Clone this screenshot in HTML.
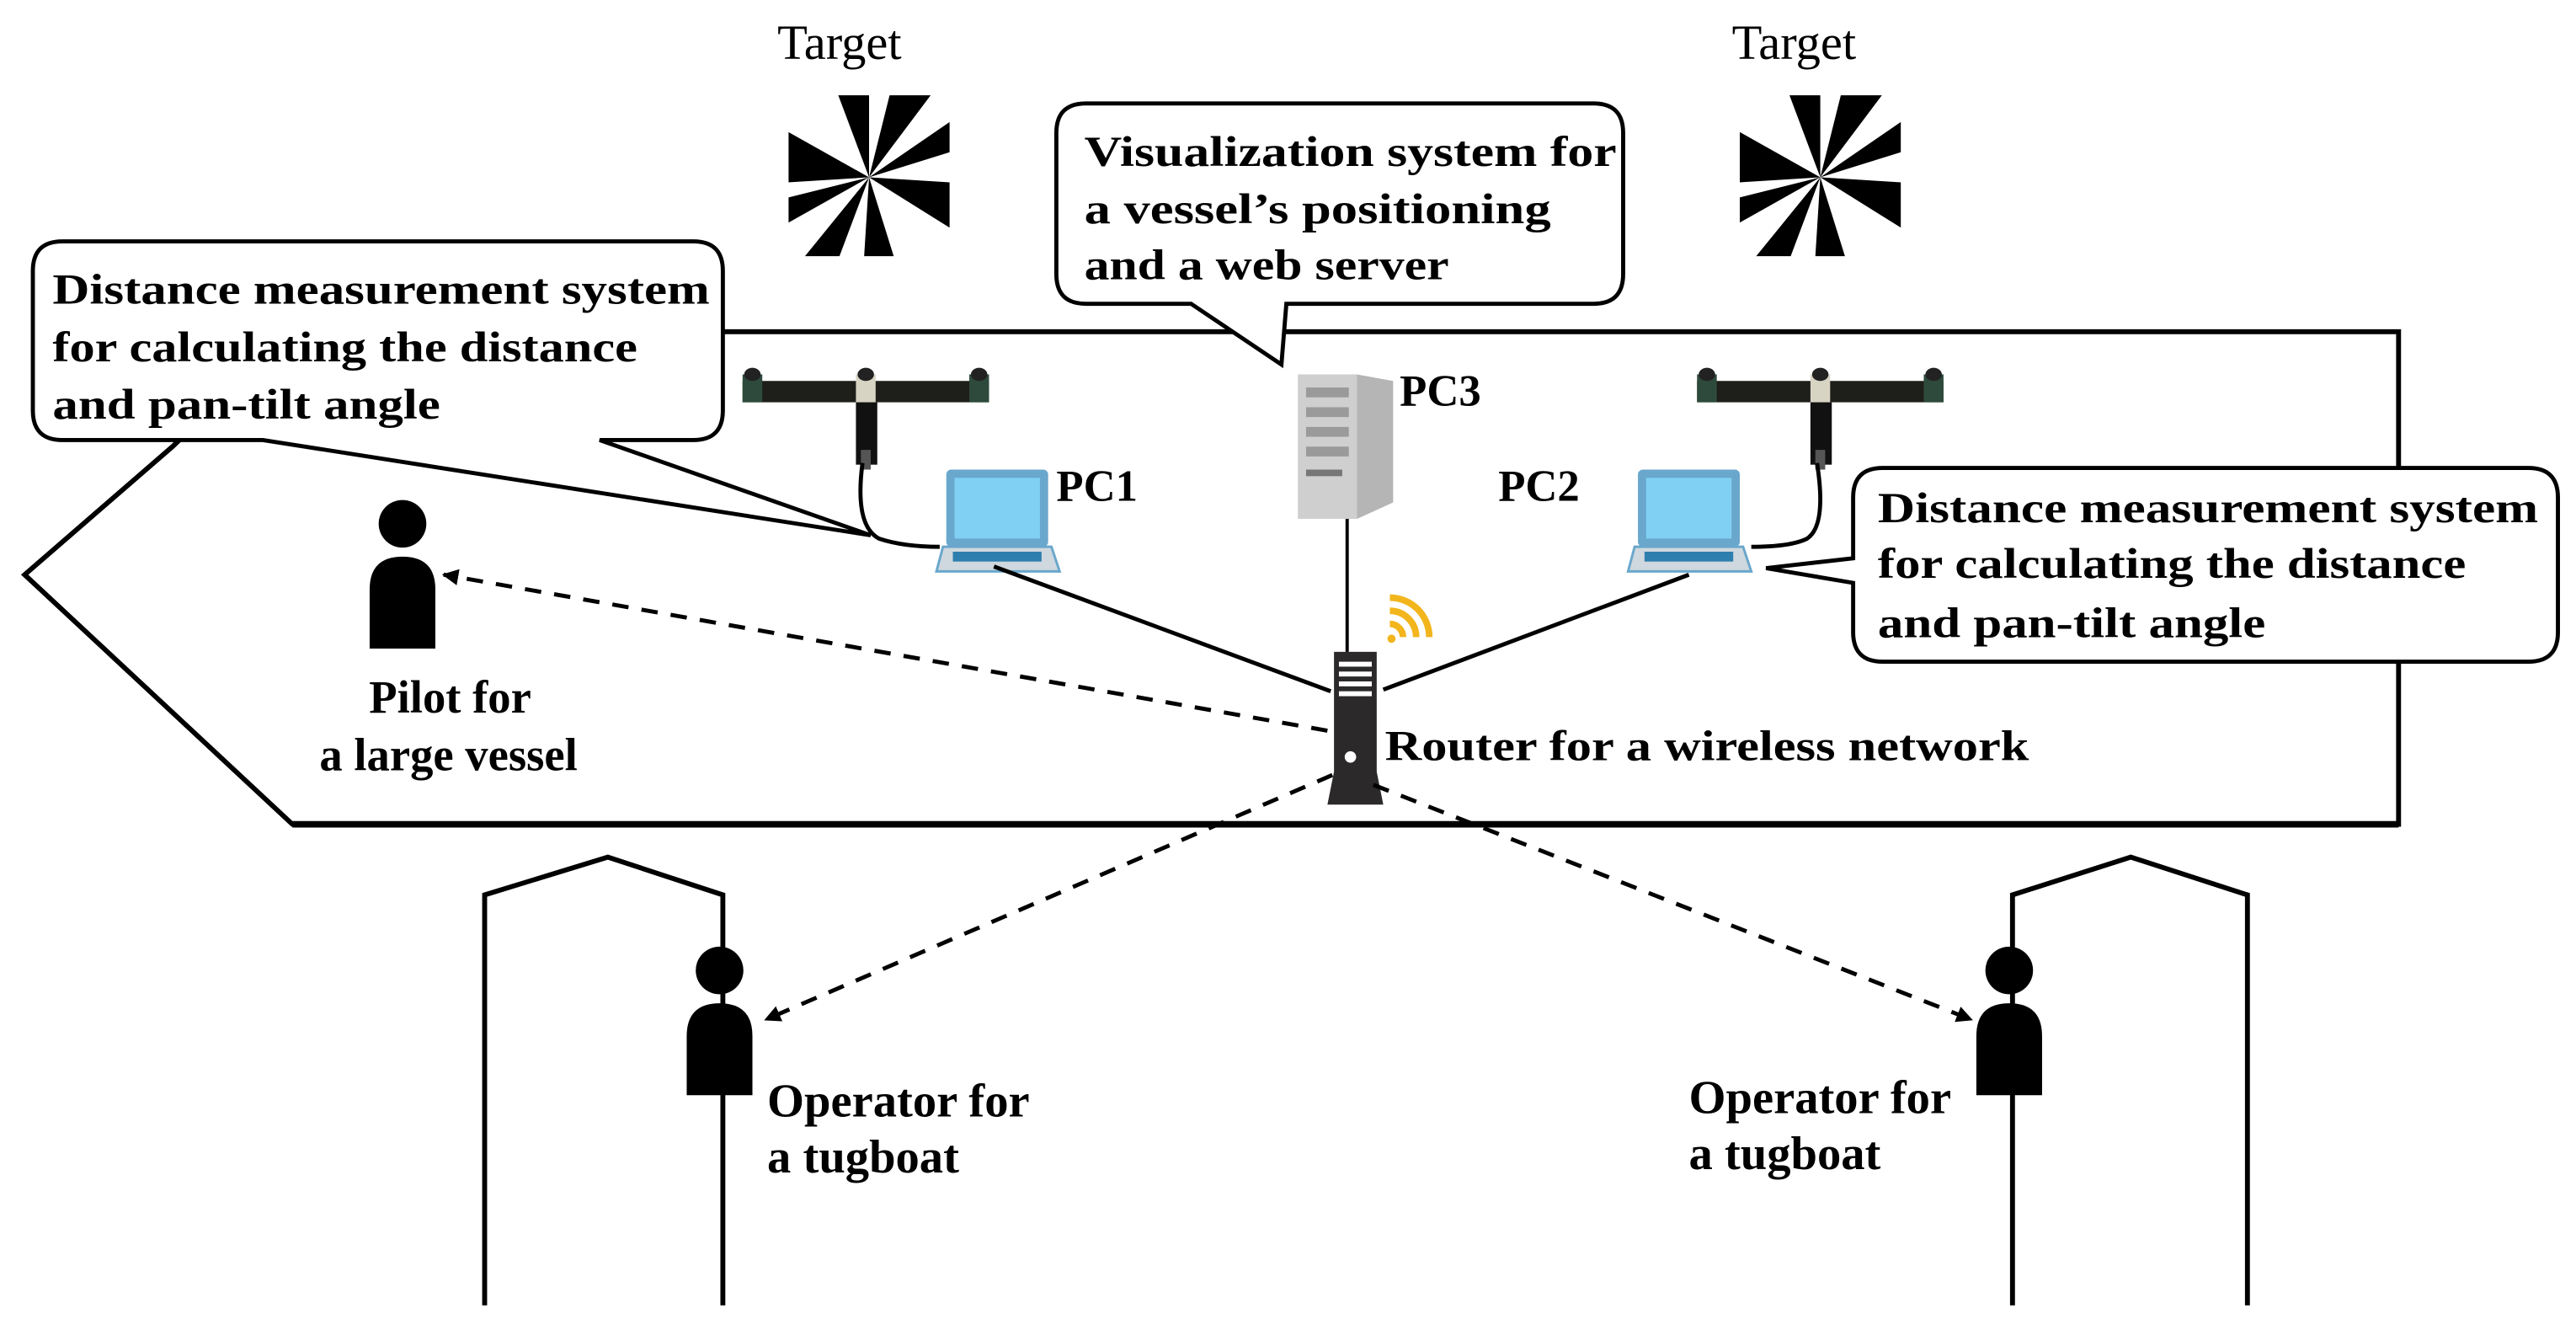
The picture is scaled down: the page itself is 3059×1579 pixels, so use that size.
<!DOCTYPE html>
<html><head><meta charset="utf-8"><style>
html,body{margin:0;padding:0;background:#fff;}
svg{display:block;}
text{font-family:"Liberation Serif",serif;font-weight:bold;fill:#000;font-size:26px;}
</style></head><body>
<svg width="3059" height="1579" viewBox="0 0 1568 810" preserveAspectRatio="none" xmlns="http://www.w3.org/2000/svg">
<defs>
<marker id="ah" markerWidth="10" markerHeight="10" refX="9" refY="5" orient="auto" markerUnits="userSpaceOnUse" viewBox="0 0 10 10">
<path d="M0,0 L10,5 L0,10 z" fill="#000"/></marker>
<clipPath id="c1"><rect x="480" y="58" width="98" height="98"/></clipPath>
<clipPath id="c2"><rect x="1059" y="58" width="98" height="98"/></clipPath>
<g id="star">
<path d="M0,0 L-30,-80 L0,-80 Z M0,0 L20,-80 L60,-80 Z M0,0 L80,-55 L80,-25 Z M0,0 L80,5 L80,50 Z M0,0 L25,80 L-5,80 Z M0,0 L-30,80 L-65,80 Z M0,0 L-80,45 L-80,20 Z M0,0 L-80,5 L-80,-45 Z" fill="#000"/>
</g>
<g id="pt">
<rect x="-75" y="-4" width="150" height="13" fill="#1e1e1a"/>
<rect x="-75" y="-8" width="12" height="17" fill="#2e4a3c"/>
<rect x="63" y="-8" width="12" height="17" fill="#2e4a3c"/>
<rect x="-6" y="-8" width="12" height="17" fill="#d8d4c4"/>
<ellipse cx="-69" cy="-8" rx="5" ry="4" fill="#222"/>
<ellipse cx="69" cy="-8" rx="5" ry="4" fill="#222"/>
<ellipse cx="0" cy="-8" rx="5" ry="4" fill="#222"/>
<rect x="-6" y="9" width="13" height="38" fill="#111"/>
<rect x="-3" y="38" width="6" height="12" fill="#555"/>
</g>
<g id="lap">
<rect x="6" y="0" width="62" height="47" rx="3" fill="#6aa7cc"/>
<rect x="11" y="5" width="52" height="37" fill="#7fd0f3"/>
<path d="M4,47 L70,47 L75,62 L0,62 Z" fill="#cfd8de" stroke="#6aa7cc" stroke-width="1.5"/>
<rect x="10" y="50" width="54" height="6" fill="#2f7fae"/>
</g>
<g id="person">
<circle cx="0" cy="0" r="14.5"/>
<path d="M-20,76 L-20,40 Q-20,20 0,20 Q20,20 20,40 L20,76 Z"/>
</g>
</defs>

<polygon points="178,202 1460,202 1460,502 178,502 15,350 105,272" fill="none" stroke="#000" stroke-width="3"/>
<line x1="178" y1="502" x2="1460" y2="502" stroke="#000" stroke-width="4"/>

<polyline points="295,795 295,545 370,522 440,545 440,795" fill="none" stroke="#000" stroke-width="3"/>
<polyline points="1225,795 1225,545 1297,522 1368,545 1368,795" fill="none" stroke="#000" stroke-width="3"/>

<text x="511" y="36" text-anchor="middle" style="font-weight:normal;font-size:30px">Target</text>
<text x="1092" y="36" text-anchor="middle" style="font-weight:normal;font-size:30px">Target</text>
<g clip-path="url(#c1)"><use href="#star" transform="translate(529,108)"/></g>
<g clip-path="url(#c2)"><use href="#star" transform="translate(1108,108)"/></g>

<use href="#pt" transform="translate(527,236)"/>
<use href="#pt" transform="translate(1108,236)"/>
<path d="M525,282 Q520,320 535,328 Q550,333 572,333" fill="none" stroke="#000" stroke-width="2.5"/>
<path d="M1106,282 Q1112,320 1100,328 Q1090,333 1066,333" fill="none" stroke="#000" stroke-width="2.5"/>

<use href="#lap" transform="translate(570,286)"/>
<use href="#lap" transform="translate(991,286)"/>
<text x="643" y="305" style="font-size:27px">PC1</text>
<text x="912" y="305" style="font-size:27px">PC2</text>

<rect x="790" y="228" width="36" height="88" fill="#cfcfcf"/>
<polygon points="826,228 848,232 848,306 826,316" fill="#b5b5b5"/>
<g fill="#9a9a9a"><rect x="795" y="236" width="26" height="6"/><rect x="795" y="248" width="26" height="6"/><rect x="795" y="260" width="26" height="6"/><rect x="795" y="272" width="26" height="6"/></g>
<rect x="795" y="286" width="22" height="4" fill="#777"/>
<text x="852" y="247" style="font-size:27px">PC3</text>

<line x1="605" y1="345" x2="810" y2="421" stroke="#000" stroke-width="2.5"/>
<line x1="820" y1="316" x2="820" y2="397" stroke="#000" stroke-width="2"/>
<line x1="1028" y1="350" x2="842" y2="420" stroke="#000" stroke-width="2.5"/>

<path d="M812,397 L838,397 L838,470 L842,490 L808,490 L812,470 Z" fill="#2b2929"/>
<g fill="#fff"><rect x="815" y="403" width="20" height="3"/><rect x="815" y="409" width="20" height="3"/><rect x="815" y="415" width="20" height="3"/><rect x="815" y="421" width="20" height="3"/></g>
<circle cx="822" cy="461" r="3.5" fill="#fff"/>
<g fill="none" stroke="#f2b51c" stroke-width="4">
<path d="M846,380 A8,8 0 0 1 854,388"/>
<path d="M846,372 A16,16 0 0 1 862,388"/>
<path d="M846,364 A24,24 0 0 1 870,388"/>
</g>
<circle cx="847" cy="389" r="2.5" fill="#f2b51c"/>
<text x="843" y="463" textLength="392" lengthAdjust="spacingAndGlyphs">Router for a wireless network</text>

<use href="#person" transform="translate(245,319)"/>
<use href="#person" transform="translate(438,591)"/>
<use href="#person" transform="translate(1223,591)"/>
<text x="274" y="434" text-anchor="middle" style="font-size:28px">Pilot for</text>
<text x="273" y="469" text-anchor="middle" style="font-size:28px">a large vessel</text>
<text x="467" y="680" style="font-size:29px">Operator for</text>
<text x="467" y="714" style="font-size:29px">a tugboat</text>
<text x="1028" y="678" style="font-size:29px">Operator for</text>
<text x="1028" y="712" style="font-size:29px">a tugboat</text>

<g stroke="#000" stroke-width="2.5" stroke-dasharray="10,8" fill="none">
<line x1="808" y1="445" x2="270" y2="350" marker-end="url(#ah)"/>
<line x1="811" y1="472" x2="466" y2="621" marker-end="url(#ah)"/>
<line x1="836" y1="478" x2="1200" y2="621" marker-end="url(#ah)"/>
</g>

<path d="M38,147 L422,147 Q440,147 440,165 L440,250 Q440,268 422,268 L365,268 L530,326 L160,268 L38,268 Q20,268 20,250 L20,165 Q20,147 38,147 Z" fill="#fff" stroke="#000" stroke-width="2.5"/>
<text x="32" y="185" textLength="400" lengthAdjust="spacingAndGlyphs">Distance measurement system</text>
<text x="32" y="220" textLength="356" lengthAdjust="spacingAndGlyphs">for calculating the distance</text>
<text x="32" y="255" textLength="236" lengthAdjust="spacingAndGlyphs">and pan-tilt angle</text>

<path d="M661,63 L970,63 Q988,63 988,81 L988,167 Q988,185 970,185 L783,185 L780,222 L725,185 L661,185 Q643,185 643,167 L643,81 Q643,63 661,63 Z" fill="#fff" stroke="#000" stroke-width="2.5"/>
<text x="660" y="101" textLength="324" lengthAdjust="spacingAndGlyphs">Visualization system for</text>
<text x="660" y="136" textLength="284" lengthAdjust="spacingAndGlyphs">a vessel’s positioning</text>
<text x="660" y="170" textLength="222" lengthAdjust="spacingAndGlyphs">and a web server</text>

<path d="M1146,285 L1539,285 Q1557,285 1557,303 L1557,385 Q1557,403 1539,403 L1146,403 Q1128,403 1128,385 L1128,355 L1075,346 L1128,340 L1128,303 Q1128,285 1146,285 Z" fill="#fff" stroke="#000" stroke-width="2.5"/>
<text x="1143" y="318" textLength="402" lengthAdjust="spacingAndGlyphs">Distance measurement system</text>
<text x="1143" y="352" textLength="358" lengthAdjust="spacingAndGlyphs">for calculating the distance</text>
<text x="1143" y="388" textLength="236" lengthAdjust="spacingAndGlyphs">and pan-tilt angle</text>
</svg>
</body></html>
